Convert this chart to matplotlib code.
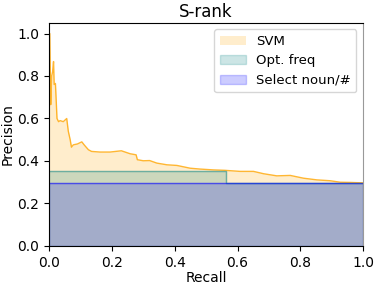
import matplotlib
matplotlib.use("Agg")
import matplotlib.pyplot as plt
import numpy as np

# SVM precision-recall curve
svm_recall = [0.0, 0.002, 0.005, 0.008, 0.011, 0.014, 0.016, 0.020, 0.022, 0.025, 0.030, 0.035,
              0.045, 0.056, 0.061, 0.067, 0.071, 0.077, 0.090, 0.104, 0.112, 0.125, 0.135,
              0.162, 0.194, 0.230, 0.258, 0.277, 0.281, 0.300, 0.320, 0.343, 0.375,
              0.407, 0.449, 0.480, 0.523, 0.560, 0.608, 0.651, 0.683, 0.725, 0.768,
              0.810, 0.853, 0.895, 0.927, 0.960, 1.0]
svm_precision = [1.0, 1.0, 0.665, 0.80, 0.82, 0.868, 0.76, 0.765, 0.70, 0.60, 0.585, 0.59,
                 0.585, 0.60, 0.54, 0.50, 0.465, 0.476, 0.48, 0.49, 0.475, 0.453, 0.445,
                 0.442, 0.442, 0.448, 0.434, 0.429, 0.406, 0.401, 0.402, 0.390, 0.382,
                 0.379, 0.366, 0.362, 0.358, 0.356, 0.351, 0.351, 0.340, 0.330, 0.332,
                 0.319, 0.311, 0.307, 0.300, 0.299, 0.297]

# Opt. freq curve
opt_recall = [0.0, 0.563, 1.0]
opt_precision = [0.354, 0.296, 0.296]

# Select noun/# baseline
sel_recall = [0.0, 1.0]
sel_precision = [0.296, 0.296]

fig = plt.figure(figsize=(3.81, 2.86), dpi=100)
ax = fig.add_axes([0.129, 0.140, 0.824, 0.780])

ax.plot(svm_recall, svm_precision, color='orange', alpha=0.8, linewidth=1)
ax.fill_between(svm_recall, svm_precision, color='orange', alpha=0.2, label='SVM', linewidth=0)

ax.step(opt_recall, opt_precision, where='post', color='teal', alpha=0.4, linewidth=1)
ax.fill_between(opt_recall, opt_precision, step='post', color='teal', alpha=0.2, label='Opt. freq')

ax.step(sel_recall, sel_precision, where='post', color='blue', alpha=0.5, linewidth=1)
ax.fill_between(sel_recall, sel_precision, step='post', color='blue', alpha=0.2, label='Select noun/#')

ax.set_xlim(0.0, 1.0)
ax.set_ylim(0.0, 1.05)
ax.set_xticks([0.0, 0.2, 0.4, 0.6, 0.8, 1.0])
ax.set_yticks([0.0, 0.2, 0.4, 0.6, 0.8, 1.0])
ax.tick_params(labelsize=10)
ax.spines['right'].set_color('#999999')
ax.set_xlabel('Recall', fontsize=10, labelpad=1)
ax.set_ylabel('Precision', fontsize=10, labelpad=2)
ax.set_title('S-rank', fontsize=12, pad=4)
ax.legend(loc='upper right', fontsize=9.5)

fig.savefig('out.png', dpi=100)
